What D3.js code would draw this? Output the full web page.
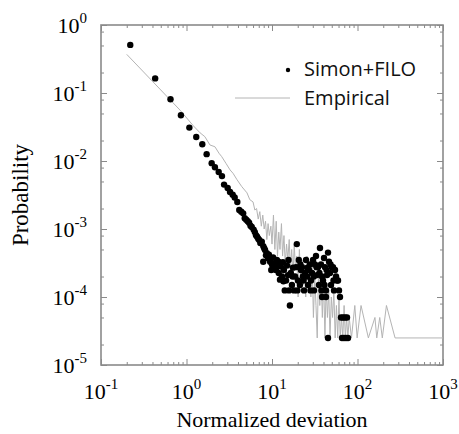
<!DOCTYPE html>
<html>
<head>
<meta charset="utf-8">
<script src="https://cdn.jsdelivr.net/npm/d3@7"></script>
<style>
  body { margin: 0; background: #fff; }
</style>
</head>
<body>
<svg width="459" height="434"></svg>
<script>
// Simon+FILO model: [normalized deviation, probability]
const simonPoints = [
  [0.22, 0.51], [0.43, 0.164], [0.65, 0.081], [0.86, 0.047], [1.08, 0.031], [1.30, 0.0225],
  [1.53, 0.0176], [1.72, 0.0126], [1.97, 0.0093], [2.15, 0.0081], [2.38, 0.0069], [2.60, 0.0060],
  [2.75, 0.0045], [3.03, 0.0040], [3.23, 0.0035], [3.47, 0.0032], [3.66, 0.0029], [3.93, 0.0025],
  [4.14, 0.0019], [4.37, 0.0018], [4.6, 0.0017], [4.8, 0.00144], [5.0, 0.00137], [5.2, 0.0013],
  [5.4, 0.00124], [5.6, 0.00112], [5.8, 0.00107], [6.1, 0.00098], [6.3, 0.0009], [6.5, 0.00081],
  [6.7, 0.00077], [6.9, 0.00072], [7.1, 0.00069], [7.3, 0.00062], [7.6, 0.00065], [7.9, 0.00056],
  [8.1, 0.00052], [7.9, 0.00033], [8.3, 0.00049], [8.5, 0.00041], [8.7, 0.00044], [9.0, 0.00037],
  [9.2, 0.00042], [9.5, 0.00033], [9.7, 0.00036], [10.0, 0.0003], [10.3, 0.00038], [10.6, 0.00027],
  [10.8, 0.00031], [11.1, 0.00025], [11.4, 0.00035], [11.7, 0.00029], [12.0, 0.000225], [12.4, 0.00018],
  [12.7, 0.00028], [13.1, 0.0002], [13.4, 0.000325], [13.8, 0.00025], [14.1, 0.000125], [14.6, 0.000175],
  [15.0, 0.00029], [15.4, 0.00021], [15.8, 0.000125], [16.2, 0.000075], [16.6, 0.000225], [17.1, 0.00015],
  [17.6, 0.00027], [18.1, 0.000125], [18.6, 0.0002], [19.1, 0.000275], [19.5, 0.0006], [20.1, 0.000175],
  [20.6, 0.00035], [21.2, 0.00015], [21.8, 0.00025], [22.4, 0.000275], [23.0, 0.0002], [23.7, 0.000125],
  [24.3, 0.000225], [25.0, 0.00035], [25.7, 0.0002], [26.4, 0.00015], [27.1, 0.00025], [27.8, 0.0003],
  [28.6, 0.000175], [29.4, 0.000225], [30.2, 0.00035], [31.0, 0.000125], [31.8, 0.0003], [32.7, 0.0004],
  [33.6, 0.00021], [34.5, 0.000275], [35.4, 0.00015], [36.4, 0.000525], [37.4, 0.0003], [38.5, 0.0002],
  [38.5, 0.0001], [39.5, 0.000175], [40.6, 0.000375], [41.7, 0.000275], [42.8, 0.000125], [42.8, 0.0001],
  [44.0, 0.00021], [45.2, 0.00045], [45.2, 0.000025], [46.4, 0.00033], [47.7, 0.000225], [49.0, 0.00015],
  [50.3, 0.000275], [51.7, 0.000275], [53.1, 0.000125], [54.6, 0.00025], [56.1, 0.0002], [57.6, 0.000175],
  [59.2, 0.000175], [60.8, 0.000125], [62.4, 0.0001], [64.1, 0.00005], [65.9, 0.000025], [67.7, 0.00005],
  [69.5, 0.000025], [71.5, 0.00005], [73.4, 0.000025], [75.4, 0.00005], [77.4, 0.000025],
  [9.8, 0.00025], [11.9, 0.00033], [13.6, 0.00017], [15.6, 0.00035], [17.4, 0.0002], [19.8, 0.000125],
  [21.5, 0.0003], [23.4, 0.000175], [26.0, 0.00027], [28.2, 0.000125], [30.8, 0.0002], [33.2, 0.000275],
  [35.9, 0.000225], [37.9, 0.000125], [41.1, 0.00015], [43.5, 0.00025], [48.4, 0.0003], [52.4, 0.000175]
];

// Empirical distribution: [normalized deviation, probability]
const empiricalPoints = [
  [0.2, 0.37], [0.84, 0.056], [1.2, 0.033], [1.44, 0.026], [1.64, 0.0228], [1.88, 0.0172],
  [2.15, 0.0162], [2.4, 0.013], [2.58, 0.0116], [2.9, 0.0092], [3.23, 0.0074], [3.5, 0.0066],
  [3.9, 0.0053], [4.43, 0.0042], [5.1, 0.0034], [5.5, 0.0027], [6.0, 0.0025], [6.3, 0.0019],
  [6.6, 0.002], [6.9, 0.0014], [7.2, 0.0018], [7.5, 0.0011], [7.8, 0.0016], [8.1, 0.001],
  [8.4, 0.0013], [8.7, 0.0007], [9.0, 0.0012], [9.3, 0.0008], [9.7, 0.0011], [10.0, 0.0006],
  [10.4, 0.0016], [10.8, 0.0005], [11.2, 0.0013], [11.6, 0.0004], [12.0, 0.0009], [12.4, 0.0005],
  [12.9, 0.0012], [13.3, 0.0004], [13.8, 0.0008], [14.3, 0.0003], [14.8, 0.0006], [15.3, 0.00035],
  [15.9, 0.0007], [16.4, 0.00025], [17.0, 0.0005], [17.6, 0.0002], [18.2, 0.0006], [18.8, 0.00025],
  [19.5, 0.0004], [20.2, 0.0001], [20.9, 0.0005], [21.6, 0.0002], [22.4, 0.00035], [23.2, 0.00015],
  [24.0, 0.0003], [24.8, 0.0001], [25.7, 0.0004], [26.6, 0.000175], [27.5, 0.00025], [28.5, 0.0001],
  [29.5, 0.0003], [30.5, 0.00005], [31.6, 0.0002], [32.7, 0.000075], [33.8, 0.000025], [35.0, 0.00025],
  [36.2, 0.000075], [37.5, 0.0002], [38.8, 0.00005], [40.2, 0.000175], [41.6, 0.000025], [43.0, 0.00015],
  [44.5, 0.00005], [46.1, 0.000125], [47.7, 0.000025], [49.4, 0.0001], [51.1, 0.00005], [52.9, 0.000125],
  [54.8, 0.000025], [56.7, 0.000075], [58.7, 0.000025], [60.7, 0.0001], [62.8, 0.000025], [65.0, 0.00005],
  [67.3, 0.000025], [69.7, 0.000075], [72.1, 0.000025], [74.6, 0.00005], [77.2, 0.000025], [80.0, 0.00005],
  [85, 0.000025], [93, 0.000075], [99, 0.000025], [110, 0.000075], [134, 0.000025], [160, 0.00005],
  [168, 0.000025], [182, 0.00005], [195, 0.000025], [218, 0.000075], [275, 0.000025], [1000, 0.000025]
];

const xMajor = [0.1, 1, 10, 100, 1000];
const xExponents = ['-1', '0', '1', '2', '3'];
const yMajor = [1, 0.1, 0.01, 0.001, 0.0001, 0.00001];
const yExponents = ['0', '-1', '-2', '-3', '-4', '-5'];
const xMinorMultipliers = [2, 3, 4, 5, 6, 7, 8, 9];
const yMinorMultipliers = [2, 5, 8];

const legendLabels = ['Simon+FILO', 'Empirical'];

const svg = d3.select('svg');
const margin = { left: 101, right: 16, top: 25, bottom: 69 };
const width = +svg.attr('width');
const height = +svg.attr('height');

const x = d3.scaleLog().domain([0.1, 1000]).range([margin.left, width - margin.right]);
const y = d3.scaleLog().domain([1e-5, 1]).range([height - margin.bottom, margin.top]);

const axisColor = '#8a8a8a';

// minor tick values built from the multipliers
const xMinor = [];
xMajor.slice(0, -1).forEach(d => xMinorMultipliers.forEach(m => xMinor.push(d * m)));
const yMinor = [];
yMajor.slice(1).forEach(d => yMinorMultipliers.forEach(m => yMinor.push(d * m)));

// ticks pointing inward on all four sides
function addTicks(axisFn, scale, values, size, transform) {
  svg.append('g')
    .attr('transform', transform)
    .call(axisFn(scale).tickValues(values).tickSize(-size).tickFormat(''))
    .call(g => g.select('.domain').remove())
    .call(g => g.selectAll('line').attr('stroke', axisColor).attr('stroke-width', 1));
}
const bottomY = y.range()[0], topY = y.range()[1];
const leftX = x.range()[0], rightX = x.range()[1];

addTicks(d3.axisBottom, x, xMajor, 6, `translate(0,${bottomY})`);
addTicks(d3.axisBottom, x, xMinor, 3, `translate(0,${bottomY})`);
addTicks(d3.axisTop, x, xMajor, 6, `translate(0,${topY})`);
addTicks(d3.axisTop, x, xMinor, 3, `translate(0,${topY})`);
addTicks(d3.axisLeft, y, yMajor, 6, `translate(${leftX},0)`);
addTicks(d3.axisLeft, y, yMinor, 3, `translate(${leftX},0)`);
addTicks(d3.axisRight, y, yMajor, 6, `translate(${rightX},0)`);
addTicks(d3.axisRight, y, yMinor, 3, `translate(${rightX},0)`);

// frame
svg.append('rect')
  .attr('x', leftX).attr('y', topY)
  .attr('width', rightX - leftX).attr('height', bottomY - topY)
  .attr('fill', 'none').attr('stroke', axisColor).attr('stroke-width', 1.6);

const serif = '"Liberation Serif", "Times New Roman", serif';

// x tick labels
xMajor.forEach((d, i) => {
  const t = svg.append('text')
    .attr('x', x(d)).attr('y', bottomY + 34)
    .attr('text-anchor', 'middle')
    .attr('font-family', serif).attr('font-size', 22);
  t.append('tspan').text('10');
  t.append('tspan').attr('dy', -10).attr('font-size', 15).text(xExponents[i]);
});

// y tick labels
yMajor.forEach((d, i) => {
  const t = svg.append('text')
    .attr('x', leftX - 14).attr('y', y(d) + 8)
    .attr('text-anchor', 'end')
    .attr('font-family', serif).attr('font-size', 22);
  t.append('tspan').text('10');
  t.append('tspan').attr('dy', -10).attr('font-size', 15).text(yExponents[i]);
});

// axis titles
svg.append('text')
  .attr('x', (leftX + rightX) / 2).attr('y', 427)
  .attr('text-anchor', 'middle')
  .attr('font-family', serif).attr('font-size', 22)
  .text('Normalized deviation');

svg.append('text')
  .attr('transform', `translate(28,${(topY + bottomY) / 2}) rotate(-90)`)
  .attr('text-anchor', 'middle')
  .attr('font-family', serif).attr('font-size', 23)
  .text('Probability');

// empirical line
svg.append('path')
  .datum(empiricalPoints)
  .attr('fill', 'none')
  .attr('stroke', '#b4b4b4')
  .attr('stroke-width', 1)
  .attr('d', d3.line().x(d => x(d[0])).y(d => y(d[1])));

// model points
svg.append('g')
  .selectAll('circle')
  .data(simonPoints)
  .join('circle')
  .attr('cx', d => x(d[0]))
  .attr('cy', d => y(d[1]))
  .attr('r', 3.2)
  .attr('fill', '#000');

// legend
const sans = '"Open Sans", "Noto Sans", sans-serif';
svg.append('circle').attr('cx', 288).attr('cy', 70).attr('r', 2.2).attr('fill', '#000');
svg.append('line')
  .attr('x1', 235).attr('x2', 290).attr('y1', 98).attr('y2', 98)
  .attr('stroke', '#b4b4b4').attr('stroke-width', 1);
legendLabels.forEach((label, i) => {
  svg.append('text')
    .attr('x', 304).attr('y', 76 + i * 29)
    .attr('font-family', sans).attr('font-size', 20)
    .attr('fill', '#111')
    .text(label);
});
</script>
</body>
</html>
